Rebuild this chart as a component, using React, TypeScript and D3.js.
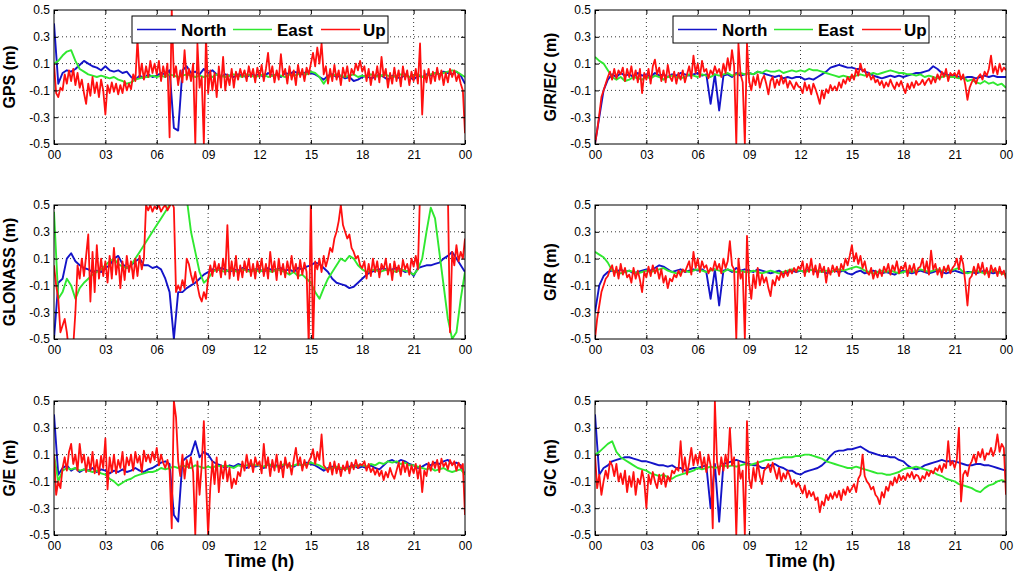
import React, { useRef, useEffect } from 'react'
import { select, scaleLinear, line, axisLeft, axisBottom, axisTop, axisRight } from 'd3'

// North/East sampled every 15 min (97 points), Up every 7.5 min (193 points), 00h..24h, values in cm
const hourTicks = [0, 3, 6, 9, 12, 15, 18, 21, 24]
const hourLabels = ['00', '03', '06', '09', '12', '15', '18', '21', '00']
const yTicks = [-0.5, -0.3, -0.1, 0.1, 0.3, 0.5]
const seriesNames = ['North', 'East', 'Up']

const gpsNorth = [
  40, -5, 3, 5, 4, 6, 9, 12, 10, 8, 7, 5,
  8, 5, 4, 5, 3, 4, 0, -2, 1, -1, 2, 0,
  1, 3, 2, 5, -38, -40, 5, 8, 3, 4, 2, 6,
  3, 5, 2, 0, 2, 1, 0, 2, 1, 0, 2, 1,
  2, 0, 3, 1, 2, 0, 3, 2, 4, 3, 2, 4,
  3, 2, 0, -2, 1, 2, 0, 1, -1, 0, -3, -2,
  0, 1, -1, 0, 2, 0, -2, 1, 0, -1, 2, 0,
  -2, 1, 0, 2, 1, 3, 2, 4, 3, 2, 4, 1,
  -5]
const gpsEast = [
  10, 12, 16, 19, 20, 12, 6, 4, 2, 1, 0, 1,
  0, -1, 0, -2, -3, -5, -4, -2, -1, 0, 0, 1,
  0, 1, 0, 2, 1, 0, 1, 2, 1, 0, 1, 0,
  1, 0, 2, 1, 0, 1, 2, 1, 0, 2, 1, 0,
  1, 2, 0, 1, 2, 1, 0, 2, 1, 2, 3, 2,
  4, 3, 0, -5, 0, 1, 2, 1, 0, 1, 2, 0,
  1, 0, 2, 1, 0, 2, 1, 0, 1, 2, 1, 0,
  1, 2, 0, 1, 2, 3, 2, 3, 4, 5, 4, 2,
  0]
const gpsUp = [
  10, -12, -15, -8, -10, 2, -5, 5, -3, 6, -6, 3, -8, -2, -12, -20, -5, -14, 0, -12, -4, -15, -2, -10,
  -28, -6, -12, -4, -11, -5, -13, -6, -12, -3, -10, -5, -9, 2, -3, 28, 0, 10, -2, 8, 0, 12, 3, 10,
  2, 12, -3, 8, 0, 10, -45, 50, 0, 8, -6, 5, -4, 20, -2, 6, -3, 10, -50, 25, -8, 0, -50, 30,
  -12, 5, -10, 3, -15, 8, -8, 15, -10, 2, -6, 6, -8, 4, -2, 6, 0, 5, -3, 8, 0, 6, -4, 7,
  0, 9, -3, 6, 18, 0, 8, -4, 5, -2, 17, 1, 6, -5, 8, -2, 5, -6, 9, 0, 6, -3, 7, 2,
  10, 18, 8, 22, 10, 25, 2, 8, -5, 6, -3, 9, -2, 5, -6, 7, 0, 8, -3, 6, 2, 10, 5, 12,
  4, 8, -3, 6, -6, 4, -2, 8, -4, 15, 0, 6, -8, 3, -5, 7, -3, 5, -7, 8, -2, 5, -6, 4,
  -3, 6, -5, 25, -28, 5, -4, 6, -5, 4, -3, 7, -2, 5, -6, 3, -4, 6, 0, 5, -3, 2, -5, -10,
  -42]

const glonassNorth = [
  -50, -8, -5, 10, 14, 8, 5, 3, 2, 0, 1, 0,
  3, 5, 10, 12, 6, 3, 5, 8, 10, 5, 5, 3,
  4, 2, -5, -15, -50, -15, -15, -12, -10, -8, -5, -2,
  0, 2, 1, 3, 2, 0, 2, 1, 3, 2, 1, 2,
  2, 0, 3, 1, 2, 3, 1, 2, 0, 3, 2, 4,
  5, 7, 6, 3, 0, -5, -8, -9, -10, -12, -11, -8,
  -5, -2, 0, 1, 2, 3, 1, 2, 3, 2, 0, 1,
  -3, 3, 4, 5, 5, 6, 7, 10, 12, 15, 10, 5,
  0]
const glonassEast = [
  45, -20, -15, -5, -10, -20, -12, -8, -5, -2, 0, 2,
  5, 8, 10, 6, 4, 3, 5, 10, 15, 20, 25, 30,
  35, 40, 45, 50, 55, 55, 55, 55, 30, 15, 0, -8,
  -5, 0, 2, 1, 0, 2, 1, 0, 2, 1, 0, 2,
  0, 2, 1, 0, 2, 1, 0, -2, 0, -3, -2, -5,
  -8, -15, -20, -12, -5, 0, 5, 10, 8, 12, 10, 5,
  2, 0, 1, 2, 0, 1, 2, 1, 0, 2, 1, 0,
  -2, 2, 10, 30, 48, 40, 15, -10, -35, -50, -45, -20,
  0]
const glonassUp = [
  5, -10, -20, -45, -40, -35, -45, -60, -60, -55, -30, 5, -5, 10, -3, 12, 28, -22, 15, -15, 20, -5, 10, -3,
  8, -8, 12, -5, 18, -2, 10, -12, 8, -6, 12, 0, 8, -5, 10, -3, 12, 2, 10, 50, 46, 50, 45, 49,
  47, 50, 45, 48, 50, 46, 49, 52, 48, -15, -10, -14, -6, -12, 10, 6, -2, -8, 0, -10, -18, -22, -15, -20,
  -5, 5, -3, 8, 0, 6, -4, 10, -2, 35, -5, 8, -3, 12, -6, 5, -4, 8, 0, 10, -3, 6, -5, 8,
  0, 10, -3, 6, -5, 15, 0, 8, -6, 10, -2, 6, -4, 8, -1, 12, 0, 6, -5, 9, -2, 7, 0, -55,
  55, -55, 8, 2, 10, 0, 12, 4, 10, 18, 15, 25, 30, 38, 50, 35, 30, 25, 28, 18, 15, 10, 12, 5,
  3, 8, -5, 6, -3, 10, 0, 8, -4, 6, 2, 10, -2, 6, -6, 8, 0, 5, -3, 9, 2, 6, -2, 10,
  4, 12, 2, 60, 60, 60, 60, 60, 60, 60, 60, 60, 60, 60, 60, 60, 60, -45, 15, 5, 20, 8, 15, 10,
  25]

const geNorth = [
  40, -5, 0, 2, -2, 0, -3, -1, -2, 0, -3, -1,
  -2, -4, -2, -3, -1, -3, -2, 0, -2, -3, -1, 0,
  2, 4, 5, 3, -35, -40, 5, 8, 10, 20, 8, 12,
  10, 5, 3, 2, 0, 2, 1, 3, 2, 0, 2, 1,
  2, 0, 3, 1, 2, 0, 3, 2, 1, 3, 2, 4,
  3, 2, 0, -2, 0, 1, 0, -1, 0, 1, 2, 0,
  1, 0, 2, 0, -1, 2, 5, 6, 4, 6, 5, 3,
  2, 0, 1, 3, 2, 4, 3, 5, 6, 3, 4, 2,
  -5]
const geEast = [
  10, -10, -2, 0, -1, 0, -2, -1, -2, -3, -2, -4,
  -5, -8, -10, -13, -11, -9, -8, -6, -5, -4, -3, -3,
  -2, 0, -1, 0, 1, 0, 2, 1, 0, 2, 1, 0,
  1, 0, 2, 1, 2, 1, 0, 2, 1, 2, 3, 2,
  2, 1, 3, 2, 1, 2, 3, 1, 2, 3, 2, 3,
  4, 3, 2, 0, -1, 0, 1, 0, -1, 0, 1, 2,
  2, 1, 3, 2, 4, 3, 5, 4, 5, 3, 4, 2,
  2, 1, 0, -1, 0, -2, -1, 0, -2, -3, -2, -1,
  -5]
const geUp = [
  10, -20, -10, -15, 0, 8, -2, 12, 18, 3, 10, -2, 18, 4, 10, -3, 8, -2, 12, -4, 6, -5, 9, 0,
  22, -16, 8, -3, 10, -4, 6, 0, 12, -5, 8, 2, 10, -2, 12, 4, 9, -3, 13, 5, 10, 4, 12, 6,
  15, 2, 10, 4, 0, 6, -2, -45, 50, 38, 5, -6, 10, -8, 6, 0, 8, -3, -50, 5, -20, 2, 35, -10,
  -50, -15, 5, -12, 8, -18, 2, -8, 5, -10, 0, -15, -8, -12, -3, -6, 5, -2, 10, 0, 6, -3, 8, 2,
  5, -4, 18, 0, 8, -6, 6, -2, 10, -3, 5, -7, 8, 0, 4, -5, 6, 15, 2, 8, -2, 6, 0, 5,
  8, 14, 3, 12, 6, 25, 2, 0, -3, 4, -5, 5, -4, 3, -6, 2, -2, 5, -4, 4, -1, 6, 0, 3,
  2, 5, -2, 3, -3, 0, -5, -1, -6, -2, -9, -3, -7, 0, -5, -8, -2, 4, -5, 5, -3, 3, -6, 2,
  -4, 3, -8, 2, -18, -2, -6, 4, -2, 5, 0, 6, -3, 7, 1, 4, -1, 6, 2, 5, -2, 4, 0, 3,
  -35]

const grecNorth = [
  -50, -30, -10, -2, 2, 0, 3, 1, 2, 0, 3, 1,
  2, 0, 3, 1, 2, 0, 2, 1, 3, 2, 1, 2,
  3, 1, 2, -20, 2, -25, 1, 2, 0, 3, 1, 2,
  3, 2, 4, 3, 2, 1, 0, 1, -1, 0, -1, 0,
  0, -2, -1, -2, 0, 2, 4, 7, 8, 9, 8, 7,
  7, 6, 6, 4, 3, 1, 0, -1, 0, 1, 0, 1,
  0, 1, 2, 3, 3, 4, 5, 8, 6, 3, 2, 1,
  1, 0, -1, 0, 0, -1, 0, 1, 0, 1, 0, 0,
  0]
const grecEast = [
  15, 12, 10, 5, 0, -2, 0, -3, -2, 0, -1, -2,
  0, -1, 1, 0, -2, 0, 1, 0, -1, 0, 2, 1,
  0, 2, 1, 0, 2, 1, 2, 3, 1, 2, 3, 2,
  3, 2, 4, 3, 5, 4, 4, 5, 3, 4, 5, 4,
  5, 4, 6, 5, 5, 4, 3, 2, 1, 0, 1, 0,
  0, 1, 2, 1, 2, 3, 2, 3, 4, 5, 4, 3,
  3, 2, 2, 1, 2, 0, 1, 0, -1, 0, 1, 0,
  0, -1, 0, -3, -2, -4, -5, -3, -5, -4, -6, -5,
  -8]
const grecUp = [
  -50, -40, -28, -15, -10, -5, 0, 4, -2, 6, -1, 5, 2, 7, -3, 6, 0, 8, -2, 5, -4, 6, -12, 3,
  -2, 6, -5, 8, 13, 2, 7, -3, 5, -4, 9, 0, -3, 4, -5, 3, -2, 5, -4, 2, 8, -1, 16, 3,
  10, 0, 12, 4, 6, -1, 5, 2, 8, 3, 6, 0, 10, 3, 14, 5, 20, 8, -50, 25, 2, -4, -50, 25,
  -3, -10, 0, -6, 2, -8, -2, 1, -5, -13, -3, 0, -8, -2, -6, 1, -5, -1, -8, -3, -6, -9, -4, -7,
  -8, -12, -4, -10, -6, -13, -5, -9, -14, -20, -10, -16, -9, -12, -6, -10, -7, -10, -4, -8, -2, -5, 0, -3,
  2, -2, 6, 1, 10, 4, 6, 0, 3, -2, 1, -4, -2, -6, -3, -8, -4, -7, -2, -6, -9, -4, -7, -3,
  -8, -12, -5, -9, -4, -8, -3, -6, -5, -2, -6, -3, -1, -5, 0, -4, 2, -2, 4, 0, 6, -3, 3, 1,
  3, 0, 5, -2, 2, -6, -17, -8, -4, -1, -5, 0, 2, -2, 4, 1, 6, 16, 3, 8, 2, 10, 4, 7,
  5]

const grNorth = [
  -30, -10, -3, 0, 1, 0, 2, 0, 1, -1, 0, 1,
  2, 1, 3, 5, 4, 2, 0, 1, 2, 0, 1, 2,
  1, 2, 0, -20, 2, -25, 1, 2, 0, 3, 1, 2,
  1, 0, 2, 1, 0, -1, 0, 1, -1, 0, 1, 0,
  1, 0, 2, 1, 0, 1, -1, 0, 1, 0, 1, -1,
  -2, 0, 1, -1, 0, 1, 0, -1, 0, -1, -2, 0,
  1, 0, -1, 0, 1, 0, -1, 0, 1, 0, -1, 0,
  1, 0, -1, 0, 0, -1, 0, 1, 0, -1, 0, 0,
  -2]
const grEast = [
  15, 13, 11, 7, 1, 0, -1, 0, 1, 0, -1, 0,
  1, 0, 1, 2, 3, 1, 0, -1, 0, 1, 0, 1,
  2, 1, 0, 1, 2, 1, 0, 2, 1, 0, 1, 0,
  0, 1, 0, -1, 0, 1, 0, -1, 0, 1, 2, 1,
  1, 0, 1, 2, 1, 0, 1, 0, 1, 2, 1, 2,
  3, 4, 3, 1, 0, -1, 0, 1, 0, 1, 0, -1,
  0, 1, 0, 1, 2, 1, 0, 1, 2, 1, 2, 1,
  2, 3, 0, -1, 0, 1, 0, -1, 0, 1, 0, -1,
  -2]
const grUp = [
  -50, -35, -25, -15, -10, -5, -3, 2, 5, -3, 4, -5, 6, -2, 3, -4, -2, -8, 3, -5, 1, -6, -15, 0,
  -4, 4, -3, 5, -1, 3, -5, 2, -8, -3, -12, -5, -7, -2, -4, 1, -3, 2, 0, 4, 8, -2, 15, 3,
  10, 0, 8, 3, 5, -1, 3, 1, 8, 2, 6, -1, 10, 3, 8, 23, 5, 2, -50, 10, -5, 0, -50, 27,
  -8, -20, -2, -12, 3, -10, -2, -8, -4, -12, -18, -6, -10, -3, -6, 0, -4, 1, -3, 2, -1, 3, 0, 4,
  2, 8, -3, 6, 0, 10, -2, 5, -4, 6, 0, 4, -8, 3, -2, 5, 0, 4, -3, 6, 2, 10, 5, 12,
  20, 8, 14, 6, 12, 3, 8, 0, -2, 3, -5, 1, -4, 2, -3, 4, 0, 6, -2, 5, 1, 8, -1, 4,
  2, 7, -3, 5, 0, 6, -2, 3, 4, 10, 0, 8, -2, 16, 2, 6, -2, 3, -4, 4, 0, 5, -1, 3,
  5, 10, 2, 12, 6, -8, -25, -5, -3, 4, -2, 6, 0, 7, -2, 3, -4, 5, 0, 3, -3, 4, -2, 1,
  -5]

const gcNorth = [
  40, -5, 0, 2, 5, 6, 7, 8, 8, 7, 6, 5,
  5, 4, 3, 2, 2, 1, 2, 0, 0, -2, -1, 0,
  0, 1, 2, -30, 3, -40, 3, 4, 5, 6, 5, 4,
  3, 2, 2, 0, 0, 2, 3, 1, 0, -2, -2, -4,
  -5, -3, -2, -1, 0, 2, 5, 9, 12, 13, 13, 14,
  14, 15, 16, 14, 12, 11, 10, 9, 9, 8, 8, 6,
  5, 2, 0, -1, 0, 2, 3, 4, 5, 6, 5, 5,
  5, 4, 3, 2, 2, 3, 3, 2, 2, 1, 0, -1,
  -2]
const gcEast = [
  10, 12, 15, 18, 20, 12, 8, 6, 4, 2, 0, -1,
  -2, -4, -5, -6, -5, -7, -8, -6, -5, -4, -3, -2,
  0, -1, 0, 1, 0, 1, 2, 1, 2, 1, 2, 3,
  2, 3, 4, 5, 6, 6, 7, 7, 8, 8, 8, 9,
  9, 10, 10, 9, 8, 7, 5, 4, 3, 2, 1, 0,
  0, 1, 0, -1, -2, -3, -4, -4, -5, -5, -4, -3,
  -1, 0, 0, 1, 0, -1, -2, -3, -5, -6, -8, -9,
  -10, -12, -13, -14, -15, -17, -18, -15, -13, -12, -10, -9,
  -10]
const gcUp = [
  10, -15, -5, -20, -10, -2, -8, 5, 2, -6, 3, -10, -4, -12, -2, -18, -6, -14, -3, -20, -8, -12, -2, -10,
  -30, -5, -12, -3, -10, -15, -5, -12, -4, -14, -6, -10, -2, -4, 0, -2, 20, -3, 8, -5, 4, 15, 2, 10,
  3, 12, 0, 8, -3, 10, 2, -45, 50, 5, -5, 8, -2, 10, 0, 30, 2, 8, -50, 5, -8, -2, -50, 35,
  -8, -15, 0, -10, 5, -6, -12, -2, 0, 3, -3, 4, -2, -8, 0, -10, -4, -8, -2, -6, -12, -9, -14, -11,
  -15, -19, -13, -22, -17, -21, -18, -24, -22, -33, -25, -28, -20, -24, -19, -23, -18, -22, -17, -24, -16, -20, -14, -18,
  -15, -12, -18, -8, -5, 10, -6, -10, -12, -16, -14, -20, -22, -27, -18, -22, -14, -17, -10, -13, -7, -11, -5, -9,
  -6, -9, -4, -7, -3, -8, -5, -6, -10, -6, -8, -3, -6, -2, -4, 0, -2, 2, -3, 3, 0, 20, 2, 5,
  0, 6, 30, -25, -5, -2, -6, 2, 5, 10, 4, 12, 8, 14, 6, 11, 10, 15, 9, 14, 25, 12, 18, 15,
  -20]

const panels = [
  { label: 'GPS (m)', col: 0, row: 0, data: [gpsNorth, gpsEast, gpsUp] },
  { label: 'G/R/E/C (m)', col: 1, row: 0, data: [grecNorth, grecEast, grecUp] },
  { label: 'GLONASS (m)', col: 0, row: 1, data: [glonassNorth, glonassEast, glonassUp] },
  { label: 'G/R (m)', col: 1, row: 1, data: [grNorth, grEast, grUp] },
  { label: 'G/E (m)', col: 0, row: 2, data: [geNorth, geEast, geUp] },
  { label: 'G/C (m)', col: 1, row: 2, data: [gcNorth, gcEast, gcUp] },
]

const colors = ['#1414c8', '#30e830', '#ff1010']
const widths = [1.9, 1.9, 1.8]
const colX = [54, 595]
const rowY = [10, 205, 401]
const W = 411
const H = 134
const font = "'Liberation Sans', Arial, sans-serif"

const App = () => {
  const svgRef = useRef<SVGSVGElement>(null)

  useEffect(() => {
    const svg = select(svgRef.current)
    svg.selectAll('*').remove()

    panels.forEach((p, k) => {
      const x0 = colX[p.col]
      const y0 = rowY[p.row]
      const x = scaleLinear().domain([0, 24]).range([x0, x0 + W])
      const y = scaleLinear().domain([-0.5, 0.5]).range([y0 + H, y0])
      const g = svg.append('g')

      g.append('rect').attr('x', x0).attr('y', y0).attr('width', W).attr('height', H).attr('fill', '#fff')

      svg.append('clipPath').attr('id', 'clip' + k)
        .append('rect').attr('x', x0).attr('y', y0).attr('width', W).attr('height', H)

      // dotted grid
      g.selectAll('.vgrid').data(hourTicks.slice(1, -1)).join('line')
        .attr('x1', d => x(d)).attr('x2', d => x(d))
        .attr('y1', y0).attr('y2', y0 + H)
        .attr('stroke', '#000').attr('stroke-width', 0.8).attr('stroke-dasharray', '1,3')
      g.selectAll('.hgrid').data(yTicks.slice(1, -1)).join('line')
        .attr('x1', x0).attr('x2', x0 + W)
        .attr('y1', d => y(d)).attr('y2', d => y(d))
        .attr('stroke', '#000').attr('stroke-width', 0.8).attr('stroke-dasharray', '1,3')

      const lines = g.append('g').attr('clip-path', `url(#clip${k})`)
      p.data.forEach((s, j) => {
        const step = 24 / (s.length - 1)
        const myLine = line<number>()
          .x((v, i) => x(i * step))
          .y(v => y(v / 100))
        lines.append('path')
          .attr('d', myLine(s))
          .attr('fill', 'none')
          .attr('stroke', colors[j])
          .attr('stroke-width', widths[j])
          .attr('stroke-linejoin', 'round')
      })

      g.append('rect').attr('x', x0).attr('y', y0).attr('width', W).attr('height', H)
        .attr('fill', 'none').attr('stroke', '#000').attr('stroke-width', 1)

      const xAxis = axisBottom(x).tickValues(hourTicks)
        .tickFormat((d, i) => hourLabels[i]).tickSizeInner(-4).tickSizeOuter(0).tickPadding(6)
      const yAxis = axisLeft(y).tickValues(yTicks)
        .tickFormat(d => String(d)).tickSizeInner(-4).tickSizeOuter(0).tickPadding(4)
      const topAxis = axisTop(x).tickValues(hourTicks).tickFormat(() => '').tickSizeInner(-4).tickSizeOuter(0)
      const rightAxis = axisRight(y).tickValues(yTicks).tickFormat(() => '').tickSizeInner(-4).tickSizeOuter(0)

      const axes = [
        g.append('g').attr('transform', `translate(0,${y0 + H})`).call(xAxis),
        g.append('g').attr('transform', `translate(${x0},0)`).call(yAxis),
        g.append('g').attr('transform', `translate(0,${y0})`).call(topAxis),
        g.append('g').attr('transform', `translate(${x0 + W},0)`).call(rightAxis),
      ]
      axes.forEach(a => {
        a.select('.domain').remove()
        a.attr('font-family', font).attr('font-size', 12)
        a.selectAll('text').attr('fill', '#000')
      })

      g.append('text')
        .attr('transform', `translate(${x0 - 39},${y0 + H / 2}) rotate(-90)`)
        .attr('text-anchor', 'middle')
        .attr('font-family', font).attr('font-weight', 'bold').attr('font-size', 16)
        .text(p.label)

      if (p.row === 0) {
        const lg = g.append('g')
        lg.append('rect').attr('x', x0 + 78).attr('y', y0 + 6).attr('width', 256).attr('height', 27)
          .attr('fill', '#fff').attr('stroke', '#000')
        const lineStart = [83, 179, 267]
        const textStart = [127, 223, 309]
        seriesNames.forEach((name, j) => {
          lg.append('line')
            .attr('x1', x0 + lineStart[j]).attr('x2', x0 + lineStart[j] + 39)
            .attr('y1', y0 + 19.5).attr('y2', y0 + 19.5)
            .attr('stroke', colors[j]).attr('stroke-width', 1.5)
          lg.append('text')
            .attr('x', x0 + textStart[j]).attr('y', y0 + 26)
            .attr('font-family', font).attr('font-weight', 'bold').attr('font-size', 17)
            .text(name)
        })
      }

      if (p.row === 2) {
        g.append('text')
          .attr('x', x0 + W / 2).attr('y', 567)
          .attr('text-anchor', 'middle')
          .attr('font-family', font).attr('font-weight', 'bold').attr('font-size', 18)
          .text('Time (h)')
      }
    })
  }, [])

  return (
    <svg ref={svgRef} width={1024} height={575}
      style={{ position: 'absolute', left: 0, top: 0, background: '#fff' }} />
  )
}

export default App
